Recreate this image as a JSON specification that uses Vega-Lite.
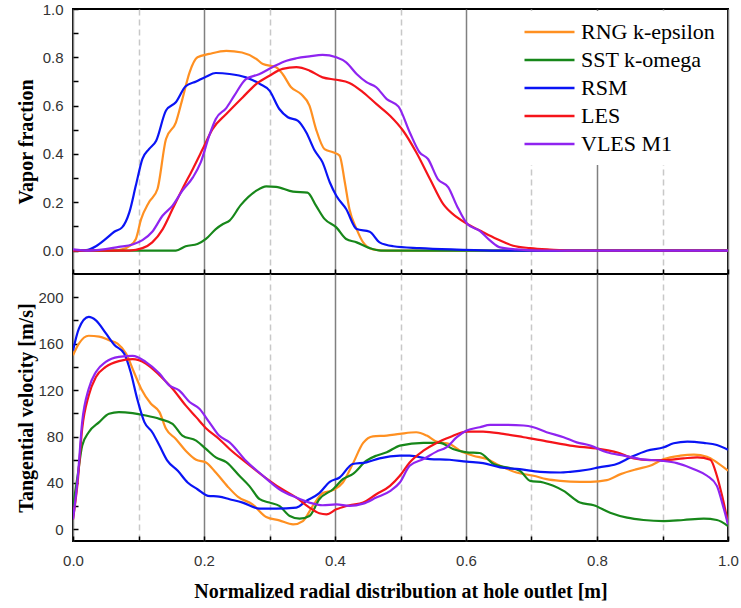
{
 "$schema": "https://vega.github.io/schema/vega-lite/v6.json",
 "background": "white",
 "padding": {"left": 14, "top": 1, "right": 5, "bottom": 5},
 "spacing": 0,
 "bounds": "flush",
 "config": {
  "view": {"stroke": "black", "strokeWidth": 2},
  "axis": {"domain": false, "labelFont": "Liberation Sans", "labelFontSize": 15, "labelColor": "#333333", "titleFont": "Liberation Serif", "titleFontSize": 20, "titleFontWeight": "bold", "titleColor": "black", "tickColor": "black", "tickWidth": 1.5, "tickSize": -5, "labelFlush": false}
 },
 "datasets": {
  "vapor": [
   {"m":"RNG k-epsilon","x":0,"y":0},{"m":"RNG k-epsilon","x":0.06,"y":0},{"m":"RNG k-epsilon","x":0.075,"y":0.005},{"m":"RNG k-epsilon","x":0.086,"y":0.018},{"m":"RNG k-epsilon","x":0.096,"y":0.048},{"m":"RNG k-epsilon","x":0.104,"y":0.13},{"m":"RNG k-epsilon","x":0.116,"y":0.2},{"m":"RNG k-epsilon","x":0.129,"y":0.255},{"m":"RNG k-epsilon","x":0.142,"y":0.462},{"m":"RNG k-epsilon","x":0.157,"y":0.53},{"m":"RNG k-epsilon","x":0.167,"y":0.627},{"m":"RNG k-epsilon","x":0.178,"y":0.738},{"m":"RNG k-epsilon","x":0.19,"y":0.8},{"m":"RNG k-epsilon","x":0.208,"y":0.814},{"m":"RNG k-epsilon","x":0.234,"y":0.827},{"m":"RNG k-epsilon","x":0.258,"y":0.82},{"m":"RNG k-epsilon","x":0.28,"y":0.793},{"m":"RNG k-epsilon","x":0.29,"y":0.772},{"m":"RNG k-epsilon","x":0.31,"y":0.759},{"m":"RNG k-epsilon","x":0.32,"y":0.731},{"m":"RNG k-epsilon","x":0.333,"y":0.676},{"m":"RNG k-epsilon","x":0.348,"y":0.648},{"m":"RNG k-epsilon","x":0.361,"y":0.6},{"m":"RNG k-epsilon","x":0.371,"y":0.503},{"m":"RNG k-epsilon","x":0.384,"y":0.42},{"m":"RNG k-epsilon","x":0.397,"y":0.407},{"m":"RNG k-epsilon","x":0.407,"y":0.393},{"m":"RNG k-epsilon","x":0.415,"y":0.283},{"m":"RNG k-epsilon","x":0.422,"y":0.172},{"m":"RNG k-epsilon","x":0.433,"y":0.089},{"m":"RNG k-epsilon","x":0.443,"y":0.034},{"m":"RNG k-epsilon","x":0.458,"y":0.005},{"m":"RNG k-epsilon","x":0.48,"y":0},{"m":"RNG k-epsilon","x":1.0,"y":0},
   {"m":"SST k-omega","x":0,"y":0},{"m":"SST k-omega","x":0.157,"y":0},{"m":"SST k-omega","x":0.172,"y":0.018},{"m":"SST k-omega","x":0.19,"y":0.027},{"m":"SST k-omega","x":0.203,"y":0.048},{"m":"SST k-omega","x":0.218,"y":0.089},{"m":"SST k-omega","x":0.229,"y":0.11},{"m":"SST k-omega","x":0.239,"y":0.124},{"m":"SST k-omega","x":0.256,"y":0.188},{"m":"SST k-omega","x":0.28,"y":0.248},{"m":"SST k-omega","x":0.295,"y":0.266},{"m":"SST k-omega","x":0.31,"y":0.264},{"m":"SST k-omega","x":0.336,"y":0.244},{"m":"SST k-omega","x":0.358,"y":0.24},{"m":"SST k-omega","x":0.371,"y":0.186},{"m":"SST k-omega","x":0.384,"y":0.131},{"m":"SST k-omega","x":0.402,"y":0.096},{"m":"SST k-omega","x":0.417,"y":0.048},{"m":"SST k-omega","x":0.433,"y":0.034},{"m":"SST k-omega","x":0.453,"y":0.01},{"m":"SST k-omega","x":0.47,"y":0},{"m":"SST k-omega","x":1.0,"y":0},
   {"m":"RSM","x":0,"y":0},{"m":"RSM","x":0.02,"y":0.002},{"m":"RSM","x":0.035,"y":0.018},{"m":"RSM","x":0.05,"y":0.048},{"m":"RSM","x":0.063,"y":0.078},{"m":"RSM","x":0.075,"y":0.096},{"m":"RSM","x":0.086,"y":0.158},{"m":"RSM","x":0.096,"y":0.27},{"m":"RSM","x":0.106,"y":0.38},{"m":"RSM","x":0.116,"y":0.42},{"m":"RSM","x":0.127,"y":0.455},{"m":"RSM","x":0.142,"y":0.58},{"m":"RSM","x":0.157,"y":0.614},{"m":"RSM","x":0.172,"y":0.68},{"m":"RSM","x":0.188,"y":0.7},{"m":"RSM","x":0.203,"y":0.72},{"m":"RSM","x":0.218,"y":0.735},{"m":"RSM","x":0.239,"y":0.731},{"m":"RSM","x":0.264,"y":0.717},{"m":"RSM","x":0.285,"y":0.69},{"m":"RSM","x":0.3,"y":0.662},{"m":"RSM","x":0.315,"y":0.586},{"m":"RSM","x":0.328,"y":0.552},{"m":"RSM","x":0.343,"y":0.538},{"m":"RSM","x":0.356,"y":0.49},{"m":"RSM","x":0.369,"y":0.414},{"m":"RSM","x":0.381,"y":0.365},{"m":"RSM","x":0.392,"y":0.283},{"m":"RSM","x":0.402,"y":0.227},{"m":"RSM","x":0.417,"y":0.172},{"m":"RSM","x":0.433,"y":0.089},{"m":"RSM","x":0.453,"y":0.078},{"m":"RSM","x":0.468,"y":0.034},{"m":"RSM","x":0.489,"y":0.018},{"m":"RSM","x":0.529,"y":0.01},{"m":"RSM","x":0.586,"y":0.004},{"m":"RSM","x":0.65,"y":0},{"m":"RSM","x":1.0,"y":0},
   {"m":"LES","x":0,"y":0},{"m":"LES","x":0.086,"y":0},{"m":"LES","x":0.106,"y":0.01},{"m":"LES","x":0.121,"y":0.034},{"m":"LES","x":0.137,"y":0.089},{"m":"LES","x":0.152,"y":0.172},{"m":"LES","x":0.167,"y":0.255},{"m":"LES","x":0.183,"y":0.338},{"m":"LES","x":0.198,"y":0.42},{"m":"LES","x":0.213,"y":0.503},{"m":"LES","x":0.234,"y":0.565},{"m":"LES","x":0.259,"y":0.634},{"m":"LES","x":0.28,"y":0.69},{"m":"LES","x":0.3,"y":0.724},{"m":"LES","x":0.32,"y":0.752},{"m":"LES","x":0.341,"y":0.759},{"m":"LES","x":0.361,"y":0.745},{"m":"LES","x":0.381,"y":0.717},{"m":"LES","x":0.402,"y":0.707},{"m":"LES","x":0.422,"y":0.694},{"m":"LES","x":0.443,"y":0.655},{"m":"LES","x":0.463,"y":0.607},{"m":"LES","x":0.484,"y":0.558},{"m":"LES","x":0.504,"y":0.496},{"m":"LES","x":0.524,"y":0.407},{"m":"LES","x":0.545,"y":0.296},{"m":"LES","x":0.565,"y":0.193},{"m":"LES","x":0.586,"y":0.138},{"m":"LES","x":0.602,"y":0.11},{"m":"LES","x":0.626,"y":0.076},{"m":"LES","x":0.647,"y":0.048},{"m":"LES","x":0.672,"y":0.02},{"m":"LES","x":0.698,"y":0.01},{"m":"LES","x":0.728,"y":0.004},{"m":"LES","x":0.76,"y":0},{"m":"LES","x":1.0,"y":0},
   {"m":"VLES M1","x":0,"y":0.005},{"m":"VLES M1","x":0.025,"y":0},{"m":"VLES M1","x":0.07,"y":0.015},{"m":"VLES M1","x":0.091,"y":0.025},{"m":"VLES M1","x":0.106,"y":0.043},{"m":"VLES M1","x":0.121,"y":0.078},{"m":"VLES M1","x":0.137,"y":0.145},{"m":"VLES M1","x":0.152,"y":0.186},{"m":"VLES M1","x":0.167,"y":0.248},{"m":"VLES M1","x":0.183,"y":0.303},{"m":"VLES M1","x":0.195,"y":0.365},{"m":"VLES M1","x":0.208,"y":0.476},{"m":"VLES M1","x":0.218,"y":0.545},{"m":"VLES M1","x":0.234,"y":0.59},{"m":"VLES M1","x":0.246,"y":0.64},{"m":"VLES M1","x":0.264,"y":0.71},{"m":"VLES M1","x":0.284,"y":0.73},{"m":"VLES M1","x":0.305,"y":0.76},{"m":"VLES M1","x":0.326,"y":0.786},{"m":"VLES M1","x":0.341,"y":0.796},{"m":"VLES M1","x":0.361,"y":0.804},{"m":"VLES M1","x":0.381,"y":0.81},{"m":"VLES M1","x":0.402,"y":0.8},{"m":"VLES M1","x":0.417,"y":0.779},{"m":"VLES M1","x":0.433,"y":0.731},{"m":"VLES M1","x":0.448,"y":0.697},{"m":"VLES M1","x":0.463,"y":0.676},{"m":"VLES M1","x":0.479,"y":0.627},{"m":"VLES M1","x":0.497,"y":0.596},{"m":"VLES M1","x":0.514,"y":0.49},{"m":"VLES M1","x":0.529,"y":0.407},{"m":"VLES M1","x":0.542,"y":0.379},{"m":"VLES M1","x":0.557,"y":0.296},{"m":"VLES M1","x":0.573,"y":0.262},{"m":"VLES M1","x":0.586,"y":0.186},{"m":"VLES M1","x":0.602,"y":0.11},{"m":"VLES M1","x":0.621,"y":0.082},{"m":"VLES M1","x":0.637,"y":0.041},{"m":"VLES M1","x":0.652,"y":0.013},{"m":"VLES M1","x":0.677,"y":0.005},{"m":"VLES M1","x":0.72,"y":0},{"m":"VLES M1","x":1.0,"y":0}
  ],
  "vel": [
   {"m":"RNG k-epsilon","x":0,"y":150},{"m":"RNG k-epsilon","x":0.009,"y":160},{"m":"RNG k-epsilon","x":0.024,"y":166.8},{"m":"RNG k-epsilon","x":0.04,"y":166},{"m":"RNG k-epsilon","x":0.055,"y":163},{"m":"RNG k-epsilon","x":0.068,"y":160},{"m":"RNG k-epsilon","x":0.081,"y":151.5},{"m":"RNG k-epsilon","x":0.093,"y":135.6},{"m":"RNG k-epsilon","x":0.104,"y":121.2},{"m":"RNG k-epsilon","x":0.119,"y":108.2},{"m":"RNG k-epsilon","x":0.132,"y":101},{"m":"RNG k-epsilon","x":0.142,"y":86.6},{"m":"RNG k-epsilon","x":0.157,"y":77.9},{"m":"RNG k-epsilon","x":0.172,"y":67.8},{"m":"RNG k-epsilon","x":0.188,"y":60},{"m":"RNG k-epsilon","x":0.203,"y":57.7},{"m":"RNG k-epsilon","x":0.218,"y":49},{"m":"RNG k-epsilon","x":0.236,"y":37},{"m":"RNG k-epsilon","x":0.252,"y":28},{"m":"RNG k-epsilon","x":0.274,"y":21.6},{"m":"RNG k-epsilon","x":0.295,"y":10.7},{"m":"RNG k-epsilon","x":0.315,"y":7.8},{"m":"RNG k-epsilon","x":0.336,"y":4.3},{"m":"RNG k-epsilon","x":0.351,"y":7.2},{"m":"RNG k-epsilon","x":0.366,"y":20.2},{"m":"RNG k-epsilon","x":0.381,"y":31.2},{"m":"RNG k-epsilon","x":0.397,"y":33.8},{"m":"RNG k-epsilon","x":0.412,"y":40.4},{"m":"RNG k-epsilon","x":0.427,"y":56.3},{"m":"RNG k-epsilon","x":0.443,"y":74.5},{"m":"RNG k-epsilon","x":0.458,"y":80.2},{"m":"RNG k-epsilon","x":0.479,"y":80.8},{"m":"RNG k-epsilon","x":0.499,"y":82.3},{"m":"RNG k-epsilon","x":0.524,"y":83.7},{"m":"RNG k-epsilon","x":0.54,"y":80.8},{"m":"RNG k-epsilon","x":0.555,"y":75.6},{"m":"RNG k-epsilon","x":0.575,"y":73.6},{"m":"RNG k-epsilon","x":0.591,"y":67.8},{"m":"RNG k-epsilon","x":0.611,"y":63.5},{"m":"RNG k-epsilon","x":0.632,"y":60.6},{"m":"RNG k-epsilon","x":0.652,"y":54.8},{"m":"RNG k-epsilon","x":0.677,"y":49},{"m":"RNG k-epsilon","x":0.703,"y":46.2},{"m":"RNG k-epsilon","x":0.723,"y":43.3},{"m":"RNG k-epsilon","x":0.744,"y":41.8},{"m":"RNG k-epsilon","x":0.774,"y":41},{"m":"RNG k-epsilon","x":0.79,"y":41},{"m":"RNG k-epsilon","x":0.815,"y":42.4},{"m":"RNG k-epsilon","x":0.836,"y":47.6},{"m":"RNG k-epsilon","x":0.861,"y":51.9},{"m":"RNG k-epsilon","x":0.881,"y":54.8},{"m":"RNG k-epsilon","x":0.902,"y":60.6},{"m":"RNG k-epsilon","x":0.927,"y":63.5},{"m":"RNG k-epsilon","x":0.948,"y":64.4},{"m":"RNG k-epsilon","x":0.968,"y":62.6},{"m":"RNG k-epsilon","x":0.983,"y":57.7},{"m":"RNG k-epsilon","x":1.0,"y":50.5},
   {"m":"SST k-omega","x":0,"y":20},{"m":"SST k-omega","x":0.007,"y":46},{"m":"SST k-omega","x":0.014,"y":72},{"m":"SST k-omega","x":0.024,"y":83.7},{"m":"SST k-omega","x":0.04,"y":92.4},{"m":"SST k-omega","x":0.055,"y":99.6},{"m":"SST k-omega","x":0.07,"y":101},{"m":"SST k-omega","x":0.091,"y":100.1},{"m":"SST k-omega","x":0.111,"y":98.1},{"m":"SST k-omega","x":0.132,"y":95.2},{"m":"SST k-omega","x":0.152,"y":90.9},{"m":"SST k-omega","x":0.167,"y":80.8},{"m":"SST k-omega","x":0.188,"y":76.5},{"m":"SST k-omega","x":0.203,"y":69.3},{"m":"SST k-omega","x":0.218,"y":62},{"m":"SST k-omega","x":0.234,"y":58},{"m":"SST k-omega","x":0.254,"y":46.2},{"m":"SST k-omega","x":0.269,"y":37.5},{"m":"SST k-omega","x":0.285,"y":26},{"m":"SST k-omega","x":0.3,"y":23.1},{"m":"SST k-omega","x":0.315,"y":20.2},{"m":"SST k-omega","x":0.331,"y":11.5},{"m":"SST k-omega","x":0.346,"y":9.2},{"m":"SST k-omega","x":0.361,"y":11.5},{"m":"SST k-omega","x":0.376,"y":26},{"m":"SST k-omega","x":0.397,"y":34.6},{"m":"SST k-omega","x":0.412,"y":43.3},{"m":"SST k-omega","x":0.427,"y":47.6},{"m":"SST k-omega","x":0.448,"y":59.2},{"m":"SST k-omega","x":0.463,"y":63.5},{"m":"SST k-omega","x":0.479,"y":66.4},{"m":"SST k-omega","x":0.499,"y":72.2},{"m":"SST k-omega","x":0.535,"y":74.5},{"m":"SST k-omega","x":0.56,"y":74.5},{"m":"SST k-omega","x":0.58,"y":69.3},{"m":"SST k-omega","x":0.601,"y":66.4},{"m":"SST k-omega","x":0.621,"y":65.8},{"m":"SST k-omega","x":0.642,"y":56.3},{"m":"SST k-omega","x":0.662,"y":53.4},{"m":"SST k-omega","x":0.682,"y":50.5},{"m":"SST k-omega","x":0.698,"y":41.8},{"m":"SST k-omega","x":0.718,"y":40.4},{"m":"SST k-omega","x":0.749,"y":33.2},{"m":"SST k-omega","x":0.774,"y":23.1},{"m":"SST k-omega","x":0.795,"y":20.8},{"m":"SST k-omega","x":0.82,"y":14.4},{"m":"SST k-omega","x":0.846,"y":10.1},{"m":"SST k-omega","x":0.871,"y":8.1},{"m":"SST k-omega","x":0.902,"y":7.2},{"m":"SST k-omega","x":0.932,"y":8.1},{"m":"SST k-omega","x":0.963,"y":9.2},{"m":"SST k-omega","x":0.983,"y":8.1},{"m":"SST k-omega","x":1.0,"y":2.9},
   {"m":"RSM","x":0,"y":154},{"m":"RSM","x":0.009,"y":173},{"m":"RSM","x":0.024,"y":183},{"m":"RSM","x":0.035,"y":180},{"m":"RSM","x":0.05,"y":169},{"m":"RSM","x":0.063,"y":159},{"m":"RSM","x":0.078,"y":151.5},{"m":"RSM","x":0.088,"y":135.6},{"m":"RSM","x":0.098,"y":112.5},{"m":"RSM","x":0.109,"y":92.4},{"m":"RSM","x":0.121,"y":83.7},{"m":"RSM","x":0.132,"y":72.2},{"m":"RSM","x":0.144,"y":59.2},{"m":"RSM","x":0.16,"y":50.5},{"m":"RSM","x":0.175,"y":40.4},{"m":"RSM","x":0.19,"y":34.6},{"m":"RSM","x":0.206,"y":28.9},{"m":"RSM","x":0.223,"y":28.3},{"m":"RSM","x":0.239,"y":26},{"m":"RSM","x":0.259,"y":23.1},{"m":"RSM","x":0.285,"y":17.9},{"m":"RSM","x":0.31,"y":17.9},{"m":"RSM","x":0.341,"y":18.8},{"m":"RSM","x":0.356,"y":24.5},{"m":"RSM","x":0.376,"y":31.2},{"m":"RSM","x":0.392,"y":41},{"m":"RSM","x":0.407,"y":44.7},{"m":"RSM","x":0.427,"y":56.3},{"m":"RSM","x":0.448,"y":57.7},{"m":"RSM","x":0.468,"y":61.2},{"m":"RSM","x":0.499,"y":63.5},{"m":"RSM","x":0.514,"y":63.5},{"m":"RSM","x":0.545,"y":60.6},{"m":"RSM","x":0.575,"y":60},{"m":"RSM","x":0.601,"y":58.3},{"m":"RSM","x":0.626,"y":57.1},{"m":"RSM","x":0.652,"y":53.4},{"m":"RSM","x":0.682,"y":51.9},{"m":"RSM","x":0.713,"y":49.6},{"m":"RSM","x":0.744,"y":49},{"m":"RSM","x":0.759,"y":49.6},{"m":"RSM","x":0.785,"y":51.4},{"m":"RSM","x":0.803,"y":53.4},{"m":"RSM","x":0.83,"y":56.3},{"m":"RSM","x":0.851,"y":62},{"m":"RSM","x":0.876,"y":67.8},{"m":"RSM","x":0.902,"y":70.7},{"m":"RSM","x":0.917,"y":74.2},{"m":"RSM","x":0.938,"y":75.6},{"m":"RSM","x":0.963,"y":74.5},{"m":"RSM","x":0.983,"y":72.7},{"m":"RSM","x":1.0,"y":68.7},
   {"m":"LES","x":0,"y":8.7},{"m":"LES","x":0.007,"y":40},{"m":"LES","x":0.014,"y":86.6},{"m":"LES","x":0.024,"y":115.4},{"m":"LES","x":0.035,"y":131.3},{"m":"LES","x":0.05,"y":140},{"m":"LES","x":0.07,"y":145},{"m":"LES","x":0.091,"y":146.6},{"m":"LES","x":0.111,"y":142.9},{"m":"LES","x":0.132,"y":132.8},{"m":"LES","x":0.152,"y":121.2},{"m":"LES","x":0.172,"y":106.8},{"m":"LES","x":0.188,"y":96.7},{"m":"LES","x":0.203,"y":87.2},{"m":"LES","x":0.223,"y":77.9},{"m":"LES","x":0.239,"y":69.3},{"m":"LES","x":0.264,"y":57.7},{"m":"LES","x":0.29,"y":46.2},{"m":"LES","x":0.315,"y":36.1},{"m":"LES","x":0.341,"y":27.4},{"m":"LES","x":0.361,"y":18.8},{"m":"LES","x":0.376,"y":13.9},{"m":"LES","x":0.387,"y":13},{"m":"LES","x":0.402,"y":17.3},{"m":"LES","x":0.422,"y":20.8},{"m":"LES","x":0.443,"y":23.1},{"m":"LES","x":0.463,"y":30.3},{"m":"LES","x":0.484,"y":37.5},{"m":"LES","x":0.499,"y":46.2},{"m":"LES","x":0.514,"y":57.7},{"m":"LES","x":0.535,"y":67.8},{"m":"LES","x":0.555,"y":74.5},{"m":"LES","x":0.575,"y":79.4},{"m":"LES","x":0.601,"y":84.3},{"m":"LES","x":0.626,"y":84.3},{"m":"LES","x":0.657,"y":82.3},{"m":"LES","x":0.688,"y":79.4},{"m":"LES","x":0.718,"y":76.5},{"m":"LES","x":0.744,"y":73.6},{"m":"LES","x":0.759,"y":72.2},{"m":"LES","x":0.803,"y":69.3},{"m":"LES","x":0.83,"y":66.4},{"m":"LES","x":0.856,"y":61.2},{"m":"LES","x":0.881,"y":59.7},{"m":"LES","x":0.902,"y":59.7},{"m":"LES","x":0.932,"y":61.2},{"m":"LES","x":0.953,"y":62},{"m":"LES","x":0.973,"y":60},{"m":"LES","x":0.983,"y":46.2},{"m":"LES","x":0.991,"y":28.9},{"m":"LES","x":1.0,"y":5.8},
   {"m":"VLES M1","x":0,"y":8.7},{"m":"VLES M1","x":0.007,"y":43},{"m":"VLES M1","x":0.014,"y":92.4},{"m":"VLES M1","x":0.024,"y":121.2},{"m":"VLES M1","x":0.035,"y":135.6},{"m":"VLES M1","x":0.05,"y":144.3},{"m":"VLES M1","x":0.07,"y":148.6},{"m":"VLES M1","x":0.091,"y":149.5},{"m":"VLES M1","x":0.111,"y":144.3},{"m":"VLES M1","x":0.132,"y":134.2},{"m":"VLES M1","x":0.147,"y":124.1},{"m":"VLES M1","x":0.162,"y":119.8},{"m":"VLES M1","x":0.178,"y":109.7},{"m":"VLES M1","x":0.193,"y":103.9},{"m":"VLES M1","x":0.208,"y":92.4},{"m":"VLES M1","x":0.223,"y":80.8},{"m":"VLES M1","x":0.239,"y":75},{"m":"VLES M1","x":0.264,"y":59.2},{"m":"VLES M1","x":0.29,"y":46.2},{"m":"VLES M1","x":0.315,"y":34.6},{"m":"VLES M1","x":0.341,"y":27.4},{"m":"VLES M1","x":0.361,"y":23.1},{"m":"VLES M1","x":0.381,"y":20.8},{"m":"VLES M1","x":0.402,"y":21.6},{"m":"VLES M1","x":0.422,"y":20.2},{"m":"VLES M1","x":0.443,"y":22.2},{"m":"VLES M1","x":0.463,"y":27.4},{"m":"VLES M1","x":0.484,"y":33},{"m":"VLES M1","x":0.499,"y":40.4},{"m":"VLES M1","x":0.514,"y":54.8},{"m":"VLES M1","x":0.535,"y":60.6},{"m":"VLES M1","x":0.555,"y":67},{"m":"VLES M1","x":0.57,"y":70.7},{"m":"VLES M1","x":0.586,"y":79.4},{"m":"VLES M1","x":0.601,"y":85.1},{"m":"VLES M1","x":0.621,"y":88},{"m":"VLES M1","x":0.637,"y":90},{"m":"VLES M1","x":0.662,"y":90},{"m":"VLES M1","x":0.688,"y":89.5},{"m":"VLES M1","x":0.703,"y":88},{"m":"VLES M1","x":0.723,"y":83.7},{"m":"VLES M1","x":0.749,"y":79.4},{"m":"VLES M1","x":0.769,"y":75},{"m":"VLES M1","x":0.79,"y":72.2},{"m":"VLES M1","x":0.815,"y":66.4},{"m":"VLES M1","x":0.841,"y":63.5},{"m":"VLES M1","x":0.866,"y":60.6},{"m":"VLES M1","x":0.897,"y":59.2},{"m":"VLES M1","x":0.922,"y":57.1},{"m":"VLES M1","x":0.948,"y":51.9},{"m":"VLES M1","x":0.968,"y":46.2},{"m":"VLES M1","x":0.983,"y":37.5},{"m":"VLES M1","x":0.991,"y":23.1},{"m":"VLES M1","x":1.0,"y":4.3}
  ]
 },
 "vconcat": [
  {
   "width": 655, "height": 265,
   "data": {"name": "vapor"},
   "mark": {"type": "line", "strokeWidth": 2.2, "interpolate": "monotone", "clip": true},
   "encoding": {
    "x": {"field": "x", "type": "quantitative", "scale": {"domain": [0, 1], "nice": false},
     "axis": {"values": [0,0.1,0.2,0.3,0.4,0.5,0.6,0.7,0.8,0.9,1.0], "labels": false, "title": null, "grid": true,
      "gridColor": {"condition": {"test": "round(datum.value*10)%2===1", "value": "#c8c8c8"}, "value": "#808080"},
      "gridDash": {"condition": {"test": "round(datum.value*10)%2===1", "value": [6,4]}, "value": []},
      "gridWidth": 1.5}},
    "y": {"field": "y", "type": "quantitative", "scale": {"domain": [-0.097, 1.0], "nice": false, "zero": false},
     "axis": {"values": [0,0.1,0.2,0.3,0.4,0.5,0.6,0.7,0.8,0.9,1.0], "grid": false,
      "labelExpr": "round(datum.value*10)%2===0 ? format(datum.value, '.1f') : ''",
      "labelPadding": 15, "title": "Vapor fraction", "titleX": -37, "titleY": 132.5}},
    "color": {"field": "m", "type": "nominal",
     "scale": {"domain": ["RNG k-epsilon","SST k-omega","RSM","LES","VLES M1"], "range": ["#FF9021","#17871A","#0A14F5","#F5141A","#8F24F0"]},
     "legend": {"orient": "none", "legendX": 442, "legendY": 2, "title": null, "symbolType": "stroke", "symbolSize": 2500, "symbolStrokeWidth": 2.5,
      "clipHeight": 26, "rowPadding": 2,
      "labelFont": "Liberation Serif", "labelFontSize": 22, "labelColor": "black", "labelOffset": 5, "fillColor": "white", "padding": 8}}
   }
  },
  {
   "width": 655, "height": 267,
   "data": {"name": "vel"},
   "mark": {"type": "line", "strokeWidth": 2.2, "interpolate": "monotone", "clip": true},
   "encoding": {
    "x": {"field": "x", "type": "quantitative", "scale": {"domain": [0, 1], "nice": false},
     "axis": {"values": [0,0.1,0.2,0.3,0.4,0.5,0.6,0.7,0.8,0.9,1.0], "grid": true,
      "labelExpr": "round(datum.value*10)%2===0 ? format(datum.value, '.1f') : ''",
      "labelPadding": 17, "labelFlush": false, "title": "Normalized radial distribution at hole outlet [m]", "titlePadding": 13,
      "gridColor": {"condition": {"test": "round(datum.value*10)%2===1", "value": "#c8c8c8"}, "value": "#808080"},
      "gridDash": {"condition": {"test": "round(datum.value*10)%2===1", "value": [6,4]}, "value": []},
      "gridWidth": 1.5}},
    "y": {"field": "y", "type": "quantitative", "scale": {"domain": [-10, 220], "nice": false, "zero": false},
     "axis": {"values": [0,20,40,60,80,100,120,140,160,180,200], "grid": false,
      "labelExpr": "datum.value%40===0 ? datum.label : ''",
      "labelPadding": 15, "title": "Tangential velocity [m/s]", "titleX": -37, "titleY": 133.5}},
    "color": {"field": "m", "type": "nominal",
     "scale": {"domain": ["RNG k-epsilon","SST k-omega","RSM","LES","VLES M1"], "range": ["#FF9021","#17871A","#0A14F5","#F5141A","#8F24F0"]},
     "legend": null}
   }
  }
 ],
 "resolve": {"legend": {"color": "independent"}}
}
